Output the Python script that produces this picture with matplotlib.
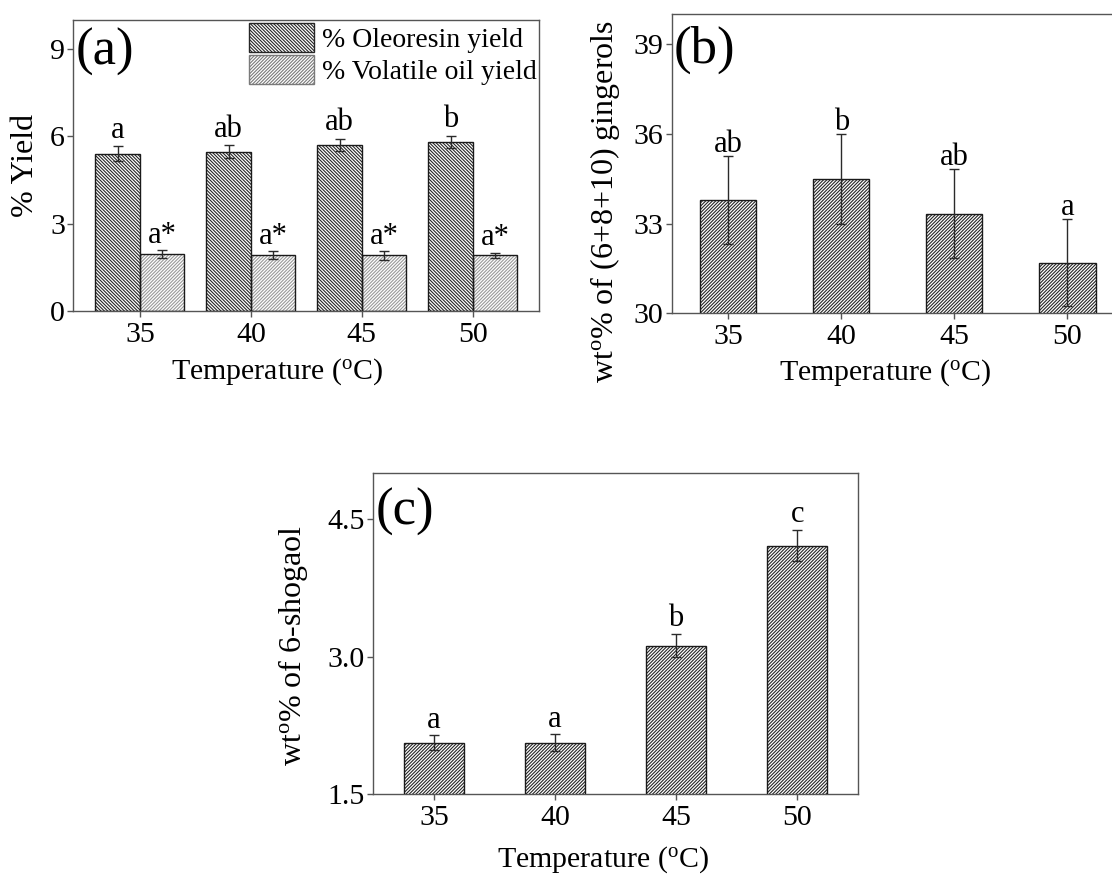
import numpy as np
import matplotlib
matplotlib.use("Agg")
from matplotlib import pyplot as plt
from matplotlib.patches import Patch

plt.rcParams.update({
    "font.family": "Liberation Serif",
    "mathtext.fontset": "custom",
    "mathtext.rm": "Liberation Serif",
    "mathtext.it": "Liberation Serif:italic",
    "hatch.linewidth": 0.8,
    "axes.edgecolor": "#555555",
    "axes.linewidth": 1.0,
})

temps = ["35", "40", "45", "50"]

# (a) extraction yields
oleoresin = [5.40, 5.47, 5.71, 5.81]
oleoresin_err = [0.25, 0.22, 0.21, 0.20]
oleoresin_sig = ["a", "ab", "ab", "b"]
volatile = [1.94, 1.91, 1.90, 1.90]
volatile_err = [0.14, 0.13, 0.14, 0.10]
volatile_sig = ["a*", "a*", "a*", "a*"]

# (b) total gingerols
gingerols = [33.79, 34.50, 33.33, 31.69]
gingerols_err = [1.46, 1.50, 1.49, 1.45]
gingerols_sig = ["ab", "b", "ab", "a"]

# (c) 6-shogaol
shogaol = [2.06, 2.06, 3.12, 4.21]
shogaol_err = [0.08, 0.09, 0.13, 0.17]
shogaol_sig = ["a", "a", "b", "c"]

TEMP_LABEL = r"Temperature ($^{\rm o}$C)"
TICK_FS = 21.5
XLABEL_FS = 21.5
YLABEL_FS = 23
SIG_FS = 22
PANEL_FS = 38

DARK = "#262626"
LIGHT = "#9a9a9a"
BACK = "\\" * 10
FWD = "/" * 10


def hatched_bars(ax, x, heights, width, hatch, hatch_color):
    # hatch layer first, then a clean black outline on top
    ax.bar(x, heights, width, color="white", edgecolor=hatch_color,
           hatch=hatch, linewidth=0, zorder=2)
    ax.bar(x, heights, width, fill=False, edgecolor="#1a1a1a",
           linewidth=1.0, zorder=3)


def error_and_letters(ax, x, vals, errs, letters, offset):
    ax.errorbar(x, vals, yerr=errs, fmt="none", ecolor="#2a2a2a",
                elinewidth=1.0, capsize=3.5, capthick=1.0, zorder=4)
    for xi, v, e, s in zip(x, vals, errs, letters):
        ax.annotate(s, (xi, v + e), xytext=(0, offset), textcoords="offset points",
                    ha="center", va="baseline", fontsize=SIG_FS)


def style_axes(ax, ylim, yticks, ytick_labels, xlim):
    ax.set_xlim(*xlim)
    ax.set_ylim(*ylim)
    ax.set_xticks(range(len(temps)))
    ax.set_xticklabels(temps)
    ax.set_yticks(yticks)
    ax.set_yticklabels(ytick_labels)
    ax.tick_params(axis="both", direction="out", length=4, width=1.0,
                   color="#555555", labelsize=TICK_FS)
    ax.tick_params(axis="x", pad=4)
    ax.tick_params(axis="y", pad=2)


def place_labels(ax, xlabel, ylabel, xpos, ypos):
    ax.set_xlabel(xlabel, fontsize=XLABEL_FS)
    ax.set_ylabel(ylabel, fontsize=YLABEL_FS)
    ax.xaxis.set_label_coords(*xpos)
    ax.yaxis.set_label_coords(*ypos)
    ax.xaxis.label.set_verticalalignment("center")
    ax.yaxis.label.set_verticalalignment("center")


fig = plt.figure(figsize=(11.12, 8.81), dpi=100)

x = np.arange(len(temps))

# ---- (a) yields ----
ax_a = fig.add_axes([0.0659, 0.6473, 0.4191, 0.3300])
w = 0.4
hatched_bars(ax_a, x - w / 2, oleoresin, w, BACK, DARK)
hatched_bars(ax_a, x + w / 2, volatile, w, FWD, LIGHT)
error_and_letters(ax_a, x - w / 2, oleoresin, oleoresin_err, oleoresin_sig, 6.3)
error_and_letters(ax_a, x + w / 2, volatile, volatile_err, volatile_sig, 5.3)
style_axes(ax_a, (0, 10), [0, 3, 6, 9], ["0", "3", "6", "9"], (-0.6, 3.6))
place_labels(ax_a, TEMP_LABEL, "% Yield", (0.4365, -0.211), (-0.1026, 0.501))
ax_a.text(0.004, 0.89, "(a)", transform=ax_a.transAxes, fontsize=PANEL_FS,
          ha="left", va="center")
handles = [
    Patch(facecolor="white", edgecolor=DARK, hatch=BACK, linewidth=1.0),
    Patch(facecolor="white", edgecolor="#7a7a7a", hatch=FWD, linewidth=1.0),
]
ax_a.legend(handles, ["% Oleoresin yield", "% Volatile oil yield"],
            loc="upper right", bbox_to_anchor=(1.0, 1.0), borderaxespad=0,
            borderpad=0.1, frameon=False, fontsize=20, handlelength=2.35,
            handleheight=1.25, labelspacing=0.08, handletextpad=0.27)

# ---- (b) gingerols ----
ax_b = fig.add_axes([0.6040, 0.6444, 0.4066, 0.3397])
hatched_bars(ax_b, x, gingerols, 0.5, FWD, DARK)
error_and_letters(ax_b, x, gingerols, gingerols_err, gingerols_sig, 3)
style_axes(ax_b, (30, 40), [30, 33, 36, 39], ["30", "33", "36", "39"], (-0.5, 3.5))
place_labels(ax_b, TEMP_LABEL, r"wt$^{\rm o}$% of (6+8+10) gingerols",
             (0.472, -0.1995), (-0.1475, 0.372))
ax_b.text(0.0035, 0.88, "(b)", transform=ax_b.transAxes, fontsize=PANEL_FS,
          ha="left", va="center")

# ---- (c) 6-shogaol ----
ax_c = fig.add_axes([0.3357, 0.0988, 0.4356, 0.3640])
hatched_bars(ax_c, x, shogaol, 0.5, FWD, DARK)
error_and_letters(ax_c, x, shogaol, shogaol_err, shogaol_sig, 5.5)
style_axes(ax_c, (1.5, 5.0), [1.5, 3.0, 4.5], ["1.5", "3.0", "4.5"], (-0.5, 3.5))
place_labels(ax_c, TEMP_LABEL, r"wt$^{\rm o}$% of 6-shogaol",
             (0.475, -0.2058), (-0.1668, 0.4646))
ax_c.text(0.004, 0.88, "(c)", transform=ax_c.transAxes, fontsize=PANEL_FS,
          ha="left", va="center")

fig.savefig("out.png", dpi=100)
